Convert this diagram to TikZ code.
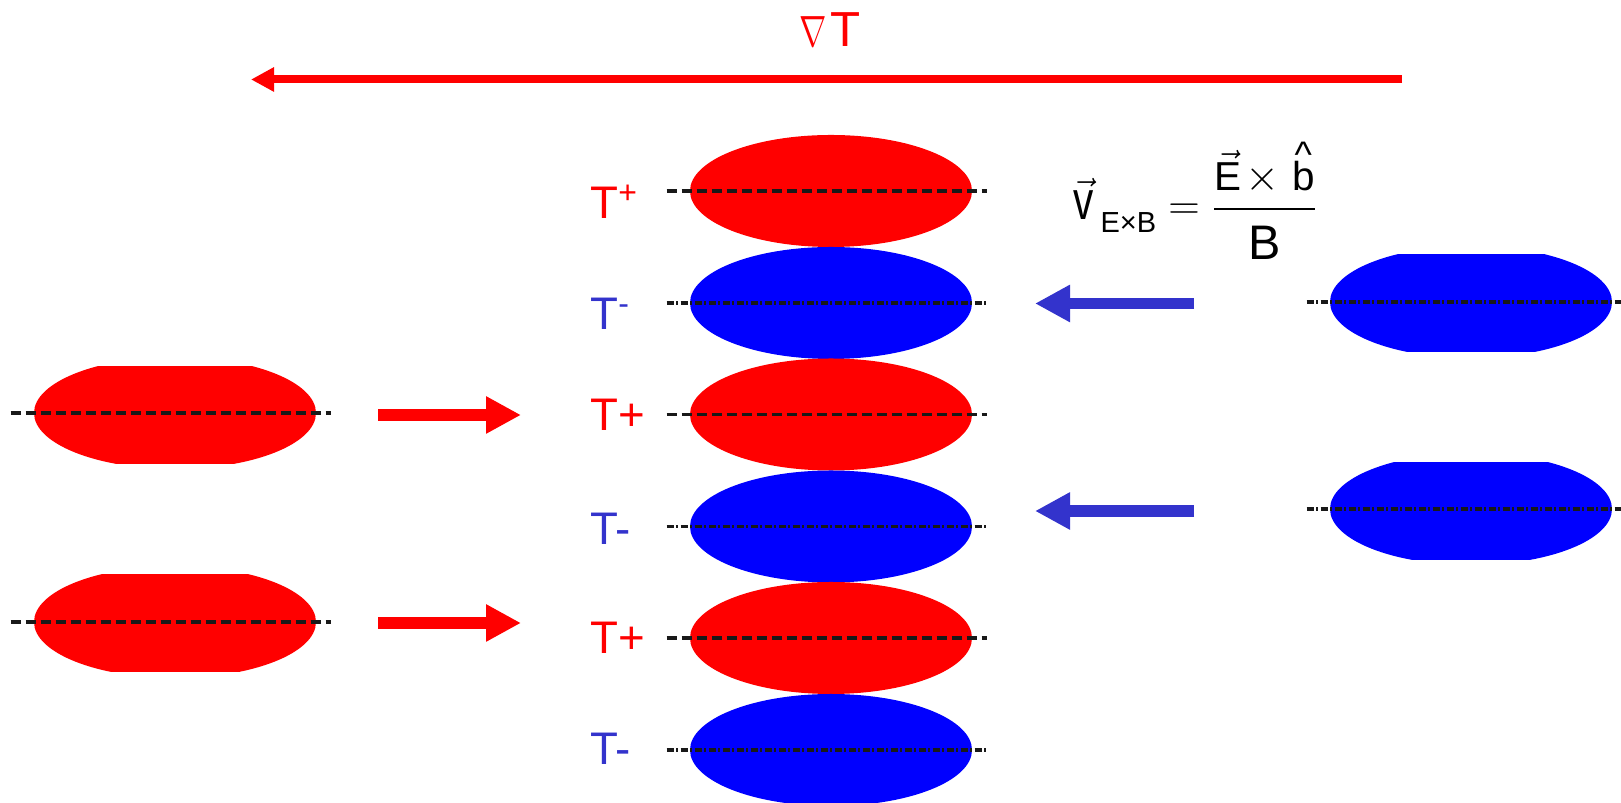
\documentclass[tikz,border=0pt]{standalone}
\usepackage{amsmath}
\usepackage{graphicx}
\usepackage{fontspec}
\setmainfont{Liberation Sans}
\usetikzlibrary{arrows.meta,shapes.geometric}
\definecolor{hot}{HTML}{FF0000}
\definecolor{cold}{HTML}{0000FF}
\definecolor{drift}{HTML}{3333CC}

\begin{document}
\begin{tikzpicture}[
    blob/.style={ellipse, minimum width=5.64cm, minimum height=2.24cm, inner sep=0pt},
    lab/.style={anchor=base west, inner sep=0pt, font=\fontsize{26}{30}\selectfont},
    hotline/.style={draw=black!90, line width=1.8pt, dash pattern=on 0.2cm off 0.1cm, shorten <=-0.46cm, shorten >=-0.29cm},
    coldline/.style={draw=black!90, line width=1.8pt, dash pattern=on 0.14cm off 0.05cm on 0.04cm off 0.05cm, shorten <=-0.46cm, shorten >=-0.29cm},
    push/.style={line width=0.23cm, -{Triangle[length=0.7cm, width=0.7cm]}}
]
\useasboundingbox (0,0) rectangle (32.42,16.06);

% temperature gradient
\node[anchor=base, inner sep=0pt, text=hot, font=\fontsize{28}{32}\selectfont] (grad) at (16.60,15.12) {\scalebox{0.75}[1]{$\nabla$}\hspace{2pt}T};
\coordinate (g0) at (28.04,14.47);
\coordinate (g1) at (5.02,14.47);
\draw[hot, line width=0.16cm, -{Triangle[length=0.46cm, width=0.46cm]}] (g0) -- (g1);

% central column
\node[blob, fill=hot]  (c1) at (16.62,12.24) {};
\node[blob, fill=cold] (c2) at (16.62,10.00) {};
\node[blob, fill=hot]  (c3) at (16.62,7.77) {};
\node[blob, fill=cold] (c4) at (16.62,5.53) {};
\node[blob, fill=hot]  (c5) at (16.62,3.30) {};
\node[blob, fill=cold] (c6) at (16.62,1.06) {};

\draw[hotline]  (c1.west) -- (c1.east);
\draw[coldline] (c2.west) -- (c2.east);
\draw[hotline]  (c3.west) -- (c3.east);
\draw[coldline] (c4.west) -- (c4.east);
\draw[hotline]  (c5.west) -- (c5.east);
\draw[coldline] (c6.west) -- (c6.east);

\node[lab, text=hot]   (t1) at (11.80,11.68) {T\textsuperscript{+}};
\node[lab, text=drift] (t2) at (11.80,9.46) {T\textsuperscript{-}};
\node[lab, text=hot]   (t3) at (11.80,7.45) {T+};
\node[lab, text=drift] (t4) at (11.80,5.16) {T-};
\node[lab, text=hot]   (t5) at (11.80,2.98) {T+};
\node[lab, text=drift] (t6) at (11.80,0.77) {T-};

% incoming hot blobs
\begin{scope}
  \clip (0.4,6.78) rectangle (6.6,8.73);
  \node[blob, fill=hot] (l1) at (3.50,7.80) {};
\end{scope}
\begin{scope}
  \clip (0.4,2.62) rectangle (6.6,4.56);
  \node[blob, fill=hot] (l2) at (3.50,3.62) {};
\end{scope}
\draw[hotline] (l1.west) -- (l1.east);
\draw[hotline] (l2.west) -- (l2.east);

% incoming cold blobs
\begin{scope}
  \clip (26.4,9.02) rectangle (32.6,10.96);
  \node[blob, fill=cold] (r1) at (29.42,10.02) {};
\end{scope}
\begin{scope}
  \clip (26.4,4.86) rectangle (32.6,6.80);
  \node[blob, fill=cold] (r2) at (29.42,5.88) {};
\end{scope}
\draw[coldline] (r1.west) -- (r1.east);
\draw[coldline] (r2.west) -- (r2.east);

\coordinate (p1) at (7.56,7.76);
\coordinate (q1) at (10.42,7.76);
\coordinate (p2) at (7.56,3.60);
\coordinate (q2) at (10.42,3.60);
\draw[push, hot] (p1) -- (q1);
\draw[push, hot] (p2) -- (q2);

\coordinate (d1) at (23.88,9.99);
\coordinate (e1) at (20.70,9.99);
\coordinate (d2) at (23.88,5.84);
\coordinate (e2) at (20.70,5.84);
\draw[push, drift] (d1) -- (e1);
\draw[push, drift] (d2) -- (e2);

% drift velocity
\node[anchor=base west, inner sep=0pt, font=\fontsize{23}{27}\selectfont] (vexb) at (21.46,11.66)
  {$\vec{\text{\scalebox{1}[1.35]{v}}}\hspace{4pt}\raisebox{-7.4pt}{\fontsize{16.5}{18}\selectfont E×B} = \dfrac{\vec{\text{E}}\mkern2mu{\times}\mkern5mu\text{\rlap{\hspace{1.5pt}\raisebox{13pt}{\fontsize{21}{21}\selectfont\textasciicircum}}b}}{\raisebox{-5.5pt}{\text{\fontsize{27.6}{30}\selectfont B}}}$};
\end{tikzpicture}
\end{document}
